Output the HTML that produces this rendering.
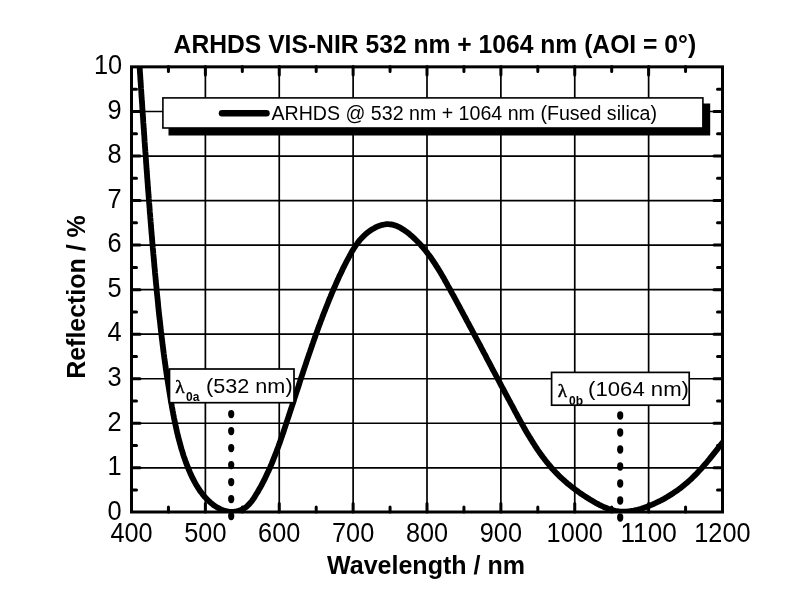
<!DOCTYPE html>
<html><head><meta charset="utf-8"><title>ARHDS VIS-NIR</title>
<style>html,body{margin:0;padding:0;background:#fff;overflow:hidden;}svg{display:block;filter:grayscale(1);}</style>
</head><body>
<svg width="800" height="600" viewBox="0 0 800 600">
<defs><clipPath id="pc"><rect x="131.5" y="66.6" width="591.0" height="445.4"/></clipPath></defs>
<rect width="800" height="600" fill="#fff"/>
<path d="M205.38,66.6V512.0M279.25,66.6V512.0M353.12,66.6V512.0M427.00,66.6V512.0M500.88,66.6V512.0M574.75,66.6V512.0M648.62,66.6V512.0M131.5,467.81H722.5M131.5,423.27H722.5M131.5,378.73H722.5M131.5,334.19H722.5M131.5,289.65H722.5M131.5,245.11H722.5M131.5,200.57H722.5M131.5,156.03H722.5M131.5,111.49H722.5" stroke="#000" stroke-width="1.7" fill="none"/>
<path d="M168.44,512.0v-5.0M168.44,66.6v5.0M242.31,512.0v-5.0M242.31,66.6v5.0M316.19,512.0v-5.0M316.19,66.6v5.0M390.06,512.0v-5.0M390.06,66.6v5.0M463.94,512.0v-5.0M463.94,66.6v5.0M537.81,512.0v-5.0M537.81,66.6v5.0M611.69,512.0v-5.0M611.69,66.6v5.0M685.56,512.0v-5.0M685.56,66.6v5.0M205.38,512.0v-8.5M205.38,66.6v8.5M279.25,512.0v-8.5M279.25,66.6v8.5M353.12,512.0v-8.5M353.12,66.6v8.5M427.00,512.0v-8.5M427.00,66.6v8.5M500.88,512.0v-8.5M500.88,66.6v8.5M574.75,512.0v-8.5M574.75,66.6v8.5M648.62,512.0v-8.5M648.62,66.6v8.5M131.5,490.08h5.0M722.5,490.08h-5.0M131.5,445.54h5.0M722.5,445.54h-5.0M131.5,401.00h5.0M722.5,401.00h-5.0M131.5,356.46h5.0M722.5,356.46h-5.0M131.5,311.92h5.0M722.5,311.92h-5.0M131.5,267.38h5.0M722.5,267.38h-5.0M131.5,222.84h5.0M722.5,222.84h-5.0M131.5,178.30h5.0M722.5,178.30h-5.0M131.5,133.76h5.0M722.5,133.76h-5.0M131.5,89.22h5.0M722.5,89.22h-5.0M131.5,467.81h8.5M722.5,467.81h-8.5M131.5,423.27h8.5M722.5,423.27h-8.5M131.5,378.73h8.5M722.5,378.73h-8.5M131.5,334.19h8.5M722.5,334.19h-8.5M131.5,289.65h8.5M722.5,289.65h-8.5M131.5,245.11h8.5M722.5,245.11h-8.5M131.5,200.57h8.5M722.5,200.57h-8.5M131.5,156.03h8.5M722.5,156.03h-8.5M131.5,111.49h8.5M722.5,111.49h-8.5" stroke="#000" stroke-width="3.0" stroke-linecap="round" fill="none"/>
<path d="M139.2,60.0 L139.3,61.9 L139.4,63.8 L139.5,65.7 L139.7,67.6 L139.8,69.5 L139.9,71.4 L140.0,73.3 L140.2,75.2 L140.3,77.1 L140.4,79.0 L140.5,80.9 L140.7,82.8 L140.8,84.7 L140.9,86.6 L141.0,88.5 L141.2,90.4 L141.3,92.3 L141.4,94.2 L141.5,96.1 L141.7,98.0 L141.8,99.9 L141.9,101.8 L142.1,103.7 L142.2,105.6 L142.3,107.5 L142.4,109.4 L142.6,111.3 L142.7,113.2 L142.8,115.1 L143.0,117.0 L143.1,118.9 L143.2,120.8 L143.3,122.7 L143.5,124.6 L143.6,126.5 L143.7,128.4 L143.9,130.3 L144.0,132.2 L144.1,134.1 L144.3,136.0 L144.4,137.9 L144.5,139.8 L144.6,141.7 L144.8,143.6 L144.9,145.5 L145.0,147.4 L145.2,149.3 L145.3,151.2 L145.5,153.1 L145.6,155.0 L145.7,156.9 L145.9,158.8 L146.0,160.7 L146.1,162.6 L146.3,164.5 L146.4,166.4 L146.5,168.3 L146.7,170.2 L146.8,172.1 L147.0,174.0 L147.1,175.9 L147.2,177.8 L147.4,179.7 L147.5,181.6 L147.7,183.5 L147.8,185.4 L147.9,187.3 L148.1,189.2 L148.2,191.1 L148.4,193.0 L148.5,194.9 L148.7,196.8 L148.8,198.7 L149.0,200.6 L149.1,202.5 L149.3,204.4 L149.4,206.3 L149.6,208.2 L149.7,210.1 L149.8,212.0 L150.0,213.9 L150.2,215.8 L150.3,217.7 L150.5,219.6 L150.6,221.5 L150.8,223.4 L150.9,225.3 L151.1,227.2 L151.2,229.1 L151.4,231.0 L151.5,232.9 L151.7,234.8 L151.9,236.7 L152.0,238.6 L152.2,240.4 L152.3,242.3 L152.5,244.2 L152.7,246.1 L152.8,248.0 L153.0,249.9 L153.2,251.8 L153.3,253.7 L153.5,255.6 L153.7,257.5 L153.8,259.4 L154.0,261.3 L154.2,263.2 L154.3,265.1 L154.5,267.0 L154.7,268.9 L154.9,270.8 L155.0,272.7 L155.2,274.6 L155.4,276.5 L155.6,278.4 L155.7,280.3 L155.9,282.2 L156.1,284.1 L156.3,286.0 L156.5,287.9 L156.6,289.8 L156.8,291.7 L157.0,293.6 L157.2,295.5 L157.4,297.3 L157.6,299.2 L157.8,301.1 L158.0,303.0 L158.1,304.9 L158.3,306.8 L158.5,308.7 L158.7,310.6 L158.9,312.5 L159.1,314.4 L159.3,316.3 L159.5,318.2 L159.8,320.1 L160.0,322.0 L160.2,323.9 L160.4,325.8 L160.6,327.6 L160.8,329.5 L161.0,331.4 L161.3,333.3 L161.5,335.2 L161.7,337.1 L161.9,339.0 L162.2,340.9 L162.4,342.8 L162.6,344.7 L162.9,346.6 L163.1,348.4 L163.3,350.3 L163.6,352.2 L163.8,354.1 L164.1,356.0 L164.3,357.9 L164.6,359.8 L164.8,361.7 L165.1,363.5 L165.4,365.4 L165.6,367.3 L165.9,369.2 L166.2,371.1 L166.4,373.0 L166.7,374.8 L167.0,376.7 L167.3,378.6 L167.6,380.5 L167.9,382.4 L168.2,384.3 L168.5,386.1 L168.8,388.0 L169.1,389.9 L169.4,391.8 L169.7,393.6 L170.0,395.5 L170.3,397.4 L170.6,399.3 L170.9,401.2 L171.3,403.0 L171.6,404.9 L171.9,406.8 L172.3,408.7 L172.6,410.5 L173.0,412.4 L173.3,414.3 L173.7,416.1 L174.0,418.0 L174.4,419.9 L174.8,421.7 L175.2,423.6 L175.6,425.5 L176.0,427.3 L176.4,429.2 L176.8,431.0 L177.2,432.9 L177.7,434.7 L178.1,436.6 L178.6,438.4 L179.1,440.3 L179.6,442.1 L180.1,443.9 L180.6,445.8 L181.1,447.6 L181.6,449.4 L182.2,451.2 L182.8,453.1 L183.3,454.9 L183.9,456.7 L184.6,458.5 L185.2,460.3 L185.8,462.1 L186.5,463.9 L187.2,465.6 L187.9,467.4 L188.6,469.2 L189.4,471.0 L190.1,472.7 L190.9,474.5 L191.7,476.2 L192.5,477.9 L193.4,479.6 L194.3,481.3 L195.2,483.0 L196.1,484.7 L197.1,486.3 L198.1,487.9 L199.2,489.5 L200.2,491.1 L201.4,492.6 L202.5,494.1 L203.7,495.6 L204.9,497.0 L206.2,498.4 L207.5,499.8 L208.9,501.1 L210.3,502.4 L211.7,503.6 L213.2,504.8 L214.7,505.9 L216.3,506.9 L217.9,507.9 L219.6,508.7 L221.3,509.6 L223.1,510.3 L224.9,510.9 L226.8,511.3 L228.7,511.7 L230.6,511.8 L232.6,511.8 L234.6,511.7 L236.6,511.3 L238.6,510.8 L240.5,510.1 L242.3,509.4 L244.0,508.4 L245.6,507.4 L247.1,506.2 L248.4,504.9 L249.7,503.6 L250.9,502.2 L252.1,500.7 L253.2,499.1 L254.2,497.6 L255.2,496.0 L256.2,494.3 L257.2,492.7 L258.2,491.1 L259.1,489.4 L260.1,487.8 L261.0,486.1 L261.9,484.5 L262.7,482.8 L263.6,481.1 L264.5,479.4 L265.3,477.7 L266.1,476.0 L266.9,474.3 L267.7,472.6 L268.5,470.9 L269.3,469.1 L270.1,467.4 L270.8,465.7 L271.6,463.9 L272.3,462.2 L273.0,460.4 L273.7,458.6 L274.4,456.9 L275.1,455.1 L275.8,453.3 L276.5,451.5 L277.1,449.8 L277.8,448.0 L278.5,446.2 L279.1,444.4 L279.8,442.6 L280.4,440.8 L281.0,439.0 L281.6,437.2 L282.3,435.4 L282.9,433.6 L283.5,431.8 L284.1,430.0 L284.7,428.1 L285.3,426.3 L285.9,424.5 L286.5,422.7 L287.1,420.9 L287.7,419.1 L288.3,417.3 L288.9,415.5 L289.5,413.6 L290.1,411.8 L290.7,410.0 L291.3,408.2 L291.9,406.4 L292.5,404.6 L293.1,402.8 L293.7,401.0 L294.2,399.2 L294.8,397.3 L295.4,395.5 L296.0,393.7 L296.6,391.9 L297.2,390.1 L297.8,388.3 L298.4,386.5 L299.0,384.7 L299.5,382.9 L300.1,381.1 L300.7,379.2 L301.3,377.4 L301.9,375.6 L302.5,373.8 L303.1,372.0 L303.7,370.2 L304.3,368.4 L304.9,366.6 L305.5,364.8 L306.1,363.0 L306.7,361.2 L307.3,359.4 L307.9,357.6 L308.5,355.8 L309.1,354.0 L309.8,352.2 L310.4,350.4 L311.0,348.6 L311.6,346.8 L312.2,345.0 L312.9,343.2 L313.5,341.4 L314.1,339.6 L314.8,337.8 L315.4,336.0 L316.0,334.2 L316.7,332.5 L317.3,330.7 L318.0,328.9 L318.6,327.1 L319.3,325.3 L320.0,323.5 L320.6,321.7 L321.3,320.0 L322.0,318.2 L322.6,316.4 L323.3,314.6 L324.0,312.8 L324.7,311.1 L325.4,309.3 L326.1,307.5 L326.8,305.7 L327.5,304.0 L328.2,302.2 L328.9,300.4 L329.6,298.7 L330.4,296.9 L331.1,295.1 L331.8,293.4 L332.6,291.6 L333.3,289.8 L334.1,288.1 L334.9,286.3 L335.6,284.6 L336.4,282.8 L337.2,281.1 L338.0,279.3 L338.7,277.6 L339.5,275.8 L340.4,274.1 L341.2,272.4 L342.0,270.7 L342.8,268.9 L343.7,267.2 L344.5,265.5 L345.4,263.8 L346.2,262.2 L347.1,260.5 L348.0,258.8 L348.9,257.2 L349.8,255.5 L350.7,253.9 L351.6,252.2 L352.5,250.6 L353.5,249.0 L354.5,247.5 L355.5,245.9 L356.6,244.4 L357.7,242.8 L358.8,241.4 L360.0,239.9 L361.3,238.5 L362.6,237.1 L364.0,235.7 L365.5,234.3 L367.0,233.1 L368.6,231.8 L370.2,230.6 L371.9,229.5 L373.7,228.5 L375.4,227.5 L377.2,226.7 L379.0,225.9 L380.9,225.3 L382.7,224.8 L384.5,224.5 L386.4,224.2 L388.2,224.2 L390.0,224.3 L391.8,224.5 L393.5,224.9 L395.2,225.5 L396.9,226.1 L398.6,226.9 L400.3,227.7 L401.9,228.7 L403.5,229.7 L405.1,230.8 L406.7,231.9 L408.2,233.1 L409.7,234.3 L411.1,235.6 L412.6,236.8 L414.0,238.1 L415.4,239.5 L416.7,240.8 L418.1,242.2 L419.4,243.5 L420.7,244.9 L421.9,246.4 L423.2,247.8 L424.4,249.2 L425.6,250.7 L426.8,252.2 L427.9,253.7 L429.1,255.2 L430.2,256.8 L431.3,258.3 L432.4,259.9 L433.4,261.5 L434.5,263.0 L435.5,264.6 L436.6,266.3 L437.6,267.9 L438.6,269.5 L439.6,271.1 L440.6,272.8 L441.5,274.4 L442.5,276.1 L443.5,277.7 L444.4,279.4 L445.3,281.1 L446.3,282.7 L447.2,284.4 L448.1,286.1 L449.1,287.8 L450.0,289.4 L450.9,291.1 L451.8,292.8 L452.7,294.5 L453.7,296.1 L454.6,297.8 L455.5,299.5 L456.4,301.2 L457.3,302.9 L458.2,304.5 L459.1,306.2 L460.0,307.9 L460.9,309.6 L461.8,311.2 L462.7,312.9 L463.6,314.6 L464.5,316.2 L465.4,317.9 L466.3,319.6 L467.2,321.3 L468.1,322.9 L469.0,324.6 L469.9,326.3 L470.8,328.0 L471.7,329.6 L472.6,331.3 L473.5,333.0 L474.3,334.7 L475.2,336.3 L476.1,338.0 L477.0,339.7 L477.9,341.3 L478.8,343.0 L479.7,344.7 L480.6,346.4 L481.4,348.0 L482.3,349.7 L483.2,351.4 L484.1,353.1 L485.0,354.7 L485.9,356.4 L486.7,358.1 L487.6,359.8 L488.5,361.4 L489.4,363.1 L490.3,364.8 L491.2,366.5 L492.0,368.1 L492.9,369.8 L493.8,371.5 L494.7,373.2 L495.6,374.8 L496.5,376.5 L497.4,378.2 L498.3,379.9 L499.1,381.5 L500.0,383.2 L500.9,384.9 L501.8,386.6 L502.7,388.2 L503.6,389.9 L504.5,391.6 L505.4,393.3 L506.3,395.0 L507.2,396.6 L508.1,398.3 L509.0,400.0 L509.9,401.7 L510.8,403.4 L511.7,405.0 L512.6,406.7 L513.5,408.4 L514.4,410.1 L515.3,411.8 L516.2,413.4 L517.1,415.1 L518.0,416.8 L518.9,418.5 L519.9,420.2 L520.8,421.8 L521.7,423.5 L522.7,425.2 L523.6,426.9 L524.5,428.5 L525.5,430.2 L526.4,431.8 L527.4,433.5 L528.4,435.1 L529.4,436.8 L530.4,438.4 L531.4,440.0 L532.4,441.6 L533.4,443.2 L534.4,444.8 L535.4,446.4 L536.5,448.0 L537.5,449.6 L538.6,451.1 L539.7,452.7 L540.8,454.2 L541.9,455.8 L543.0,457.3 L544.2,458.8 L545.3,460.3 L546.5,461.8 L547.7,463.2 L548.9,464.7 L550.1,466.1 L551.3,467.6 L552.5,469.0 L553.8,470.4 L555.1,471.7 L556.4,473.1 L557.7,474.4 L559.0,475.8 L560.4,477.1 L561.8,478.4 L563.2,479.6 L564.6,480.9 L566.0,482.1 L567.4,483.4 L568.9,484.6 L570.4,485.8 L571.9,487.0 L573.4,488.1 L574.9,489.3 L576.4,490.4 L578.0,491.5 L579.6,492.7 L581.1,493.8 L582.7,494.8 L584.3,495.9 L586.0,497.0 L587.6,498.0 L589.2,499.0 L590.9,500.1 L592.6,501.1 L594.2,502.0 L595.9,503.0 L597.6,503.9 L599.3,504.8 L601.1,505.7 L602.8,506.5 L604.5,507.3 L606.3,508.0 L608.1,508.7 L609.8,509.3 L611.6,509.9 L613.4,510.4 L615.2,510.8 L617.0,511.1 L618.9,511.4 L620.7,511.6 L622.6,511.7 L624.4,511.7 L626.3,511.6 L628.1,511.4 L630.0,511.2 L631.9,510.9 L633.8,510.6 L635.6,510.2 L637.5,509.7 L639.4,509.2 L641.2,508.7 L643.1,508.1 L644.9,507.4 L646.7,506.8 L648.5,506.1 L650.3,505.3 L652.1,504.6 L653.9,503.8 L655.6,503.0 L657.4,502.2 L659.1,501.3 L660.8,500.5 L662.5,499.6 L664.2,498.7 L665.8,497.7 L667.5,496.8 L669.1,495.8 L670.7,494.8 L672.3,493.8 L673.9,492.7 L675.4,491.7 L677.0,490.6 L678.5,489.5 L680.0,488.4 L681.5,487.2 L683.0,486.0 L684.5,484.8 L685.9,483.6 L687.4,482.4 L688.8,481.1 L690.2,479.9 L691.6,478.6 L692.9,477.3 L694.3,475.9 L695.6,474.6 L697.0,473.2 L698.3,471.8 L699.6,470.4 L700.9,469.0 L702.2,467.6 L703.4,466.2 L704.7,464.7 L705.9,463.3 L707.2,461.8 L708.4,460.3 L709.6,458.9 L710.8,457.4 L712.0,455.9 L713.2,454.4 L714.4,452.9 L715.6,451.4 L716.8,449.9 L718.0,448.4 L719.1,446.9 L720.3,445.4 L721.5,444.0 L722.6,442.5 L723.8,441.0 L725.0,439.5" stroke="#000" stroke-width="5.8" fill="none" stroke-linejoin="round" clip-path="url(#pc)"/>
<g fill="#000"><ellipse cx="231.2" cy="414.1" rx="3.1" ry="4.15"/><ellipse cx="231.2" cy="431.1" rx="3.1" ry="4.15"/><ellipse cx="231.2" cy="448.1" rx="3.1" ry="4.15"/><ellipse cx="231.2" cy="465.1" rx="3.1" ry="4.15"/><ellipse cx="231.2" cy="482.1" rx="3.1" ry="4.15"/><ellipse cx="231.2" cy="499.1" rx="3.1" ry="4.15"/><ellipse cx="231.2" cy="516.1" rx="3.1" ry="4.15"/><ellipse cx="620.2" cy="415.5" rx="3.1" ry="4.15"/><ellipse cx="620.2" cy="432.5" rx="3.1" ry="4.15"/><ellipse cx="620.2" cy="449.5" rx="3.1" ry="4.15"/><ellipse cx="620.2" cy="466.5" rx="3.1" ry="4.15"/><ellipse cx="620.2" cy="483.5" rx="3.1" ry="4.15"/><ellipse cx="620.2" cy="500.5" rx="3.1" ry="4.15"/><ellipse cx="620.2" cy="517.5" rx="3.1" ry="4.15"/></g>
<rect x="168.5" y="103.5" width="541.7" height="32" fill="#000"/>
<rect x="162.9" y="97.9" width="540" height="30.1" fill="#fff" stroke="#000" stroke-width="1.6"/>
<path d="M222,113.3H266.5" stroke="#000" stroke-width="6.5" stroke-linecap="round"/>
<text x="271.4" y="119.8" font-family="Liberation Sans, Arial, Helvetica, sans-serif" font-size="20" textLength="385.6" lengthAdjust="spacingAndGlyphs">ARHDS @ 532 nm + 1064 nm (Fused silica)</text>
<rect x="169.5" y="369" width="124.5" height="33.7" fill="#fff" stroke="#000" stroke-width="1.7"/>
<text x="175.2" y="393.2" font-family="Liberation Serif, serif" font-size="19.2" stroke="#000" stroke-width="0.45">λ</text>
<text x="186" y="401" font-family="Liberation Sans, Arial, Helvetica, sans-serif" font-weight="bold" font-size="12">0a</text>
<text x="206" y="392.8" font-family="Liberation Sans, Arial, Helvetica, sans-serif" font-size="21" textLength="86.6" lengthAdjust="spacingAndGlyphs">(532 nm)</text>
<rect x="551.6" y="372.4" width="137.6" height="32.8" fill="#fff" stroke="#000" stroke-width="1.7"/>
<text x="557.7" y="396.7" font-family="Liberation Serif, serif" font-size="19.2" stroke="#000" stroke-width="0.45">λ</text>
<text x="569" y="404.5" font-family="Liberation Sans, Arial, Helvetica, sans-serif" font-weight="bold" font-size="12">0b</text>
<text x="588.1" y="396.3" font-family="Liberation Sans, Arial, Helvetica, sans-serif" font-size="21" textLength="100.9" lengthAdjust="spacingAndGlyphs">(1064 nm)</text>
<rect x="131.5" y="66.85" width="591.0" height="445.15" fill="none" stroke="#000" stroke-width="3"/>
<text x="107.5" y="519.6" font-family="Liberation Sans, Arial, Helvetica, sans-serif" font-size="26.8" textLength="14.1" lengthAdjust="spacingAndGlyphs">0</text>
<text x="107.5" y="475.1" font-family="Liberation Sans, Arial, Helvetica, sans-serif" font-size="26.8" textLength="14.1" lengthAdjust="spacingAndGlyphs">1</text>
<text x="107.5" y="430.5" font-family="Liberation Sans, Arial, Helvetica, sans-serif" font-size="26.8" textLength="14.1" lengthAdjust="spacingAndGlyphs">2</text>
<text x="107.5" y="386.0" font-family="Liberation Sans, Arial, Helvetica, sans-serif" font-size="26.8" textLength="14.1" lengthAdjust="spacingAndGlyphs">3</text>
<text x="107.5" y="341.4" font-family="Liberation Sans, Arial, Helvetica, sans-serif" font-size="26.8" textLength="14.1" lengthAdjust="spacingAndGlyphs">4</text>
<text x="107.5" y="296.9" font-family="Liberation Sans, Arial, Helvetica, sans-serif" font-size="26.8" textLength="14.1" lengthAdjust="spacingAndGlyphs">5</text>
<text x="107.5" y="252.4" font-family="Liberation Sans, Arial, Helvetica, sans-serif" font-size="26.8" textLength="14.1" lengthAdjust="spacingAndGlyphs">6</text>
<text x="107.5" y="207.8" font-family="Liberation Sans, Arial, Helvetica, sans-serif" font-size="26.8" textLength="14.1" lengthAdjust="spacingAndGlyphs">7</text>
<text x="107.5" y="163.3" font-family="Liberation Sans, Arial, Helvetica, sans-serif" font-size="26.8" textLength="14.1" lengthAdjust="spacingAndGlyphs">8</text>
<text x="107.5" y="118.7" font-family="Liberation Sans, Arial, Helvetica, sans-serif" font-size="26.8" textLength="14.1" lengthAdjust="spacingAndGlyphs">9</text>
<text x="94.0" y="74.2" font-family="Liberation Sans, Arial, Helvetica, sans-serif" font-size="26.8" textLength="28.2" lengthAdjust="spacingAndGlyphs">10</text>
<text x="110.4" y="542.2" font-family="Liberation Sans, Arial, Helvetica, sans-serif" font-size="26.8" textLength="42.2" lengthAdjust="spacingAndGlyphs">400</text>
<text x="184.3" y="542.2" font-family="Liberation Sans, Arial, Helvetica, sans-serif" font-size="26.8" textLength="42.2" lengthAdjust="spacingAndGlyphs">500</text>
<text x="258.1" y="542.2" font-family="Liberation Sans, Arial, Helvetica, sans-serif" font-size="26.8" textLength="42.2" lengthAdjust="spacingAndGlyphs">600</text>
<text x="332.0" y="542.2" font-family="Liberation Sans, Arial, Helvetica, sans-serif" font-size="26.8" textLength="42.2" lengthAdjust="spacingAndGlyphs">700</text>
<text x="405.9" y="542.2" font-family="Liberation Sans, Arial, Helvetica, sans-serif" font-size="26.8" textLength="42.2" lengthAdjust="spacingAndGlyphs">800</text>
<text x="479.8" y="542.2" font-family="Liberation Sans, Arial, Helvetica, sans-serif" font-size="26.8" textLength="42.2" lengthAdjust="spacingAndGlyphs">900</text>
<text x="546.6" y="542.2" font-family="Liberation Sans, Arial, Helvetica, sans-serif" font-size="26.8" textLength="56.3" lengthAdjust="spacingAndGlyphs">1000</text>
<text x="620.5" y="542.2" font-family="Liberation Sans, Arial, Helvetica, sans-serif" font-size="26.8" textLength="56.3" lengthAdjust="spacingAndGlyphs">1100</text>
<text x="694.3" y="542.2" font-family="Liberation Sans, Arial, Helvetica, sans-serif" font-size="26.8" textLength="56.3" lengthAdjust="spacingAndGlyphs">1200</text>
<text x="173.6" y="52.6" font-family="Liberation Sans, Arial, Helvetica, sans-serif" font-size="25.8" font-weight="bold" textLength="522.5" lengthAdjust="spacingAndGlyphs">ARHDS VIS-NIR 532 nm + 1064 nm (AOI = 0°)</text>
<text x="327" y="574" font-family="Liberation Sans, Arial, Helvetica, sans-serif" font-size="25.8" font-weight="bold" textLength="198" lengthAdjust="spacingAndGlyphs">Wavelength / nm</text>
<text transform="translate(85,378.75) rotate(-90)" font-family="Liberation Sans, Arial, Helvetica, sans-serif" font-size="25.8" font-weight="bold" textLength="163.4" lengthAdjust="spacingAndGlyphs">Reflection / %</text>
</svg>
</body></html>
